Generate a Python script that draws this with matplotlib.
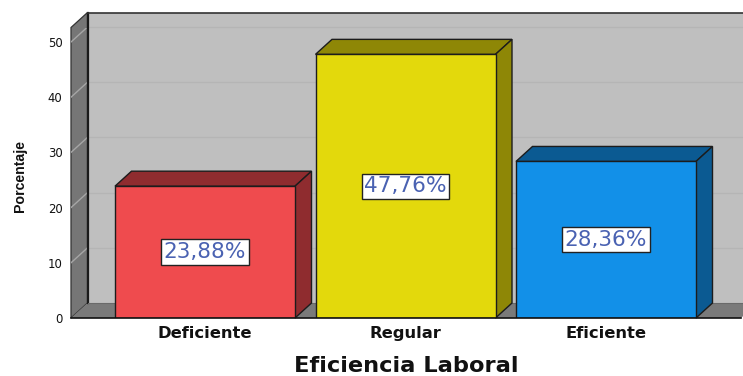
import matplotlib
matplotlib.use("Agg")
import matplotlib.pyplot as plt
from matplotlib.patches import Polygon

categories = ["Deficiente", "Regular", "Eficiente"]
values = [23.88, 47.76, 28.36]
labels = ["23,88%", "47,76%", "28,36%"]
y_ticks = [0, 10, 20, 30, 40, 50]
front_colors = ["#EF4B4E", "#E3D90C", "#1290E8"]
side_colors = ["#8F2C2F", "#8E8706", "#0B5A92"]

W, H = 743, 376
fig = plt.figure(figsize=(W / 100, H / 100), dpi=100)
L, R, B, T = 71, 741, 318, 27.5
ax = fig.add_axes([L / W, 1 - B / H, (R - L) / W, (B - T) / H])
xmin, xmax = (L - 205) / 200.5, (R - 205) / 200.5
ymin, ymax = 0, (B - T) / 5.52
ax.set_xlim(xmin, xmax)
ax.set_ylim(ymin, ymax)
ddx, ddy = 16.5 / 200.5, 15 / 5.52
bar_w = 180 / 200.5
ink = "#1c1c1c"

def poly(pts, fc, ec=ink, lw=1.0, z=1):
    ax.add_patch(Polygon(pts, closed=True, fc=fc, ec=ec, lw=lw, zorder=z,
                         clip_on=False, joinstyle="miter"))

# walls and floor
poly([(xmin + ddx, ddy), (xmax + ddx, ddy), (xmax + ddx, ymax + ddy), (xmin + ddx, ymax + ddy)],
     "#BFBFBF", ec="none", z=1)
poly([(xmin, 0), (xmin + ddx, ddy), (xmin + ddx, ymax + ddy), (xmin, ymax)],
     "#767676", ec="#333333", lw=0.9, z=2)
poly([(xmin, 0), (xmax, 0), (xmax + ddx, ddy), (xmin + ddx, ddy)],
     "#7A7A7A", ec="none", z=2)
for t in y_ticks[1:]:
    ax.plot([xmin + ddx, xmax + ddx], [t + ddy, t + ddy], color="#B5B5B5", lw=1.0, zorder=1.5, clip_on=False)
    ax.plot([xmin, xmin + ddx], [t, t + ddy], color="#A6A6A6", lw=1.0, zorder=3)
ax.plot([xmin + ddx, xmin + ddx], [ddy, ymax + ddy], color="#1a1a1a", lw=1.6, zorder=3, clip_on=False)
ax.plot([xmin + ddx, xmax + ddx], [ymax + ddy, ymax + ddy], color="#333333", lw=1.2, zorder=3, clip_on=False)
ax.plot([xmin + ddx, xmax + ddx], [ddy, ddy], color="#6a6a6a", lw=0.8, zorder=3, clip_on=False)

# bars
for i, v in enumerate(values):
    x0, x1 = i - bar_w / 2, i + bar_w / 2
    poly([(x0, v), (x1, v), (x1 + ddx, v + ddy), (x0 + ddx, v + ddy)], side_colors[i], z=4)
    poly([(x1, 0), (x1 + ddx, ddy), (x1 + ddx, v + ddy), (x1, v)], side_colors[i], z=4)
    ax.bar(i, v, width=bar_w, color=front_colors[i], edgecolor=ink, linewidth=1.0, zorder=5)
    ax.text(i, v / 2, labels[i], ha="center", va="center", fontsize=15.6, color="#4A62B2",
            family="DejaVu Sans", zorder=6,
            bbox=dict(boxstyle="square,pad=0.12", fc="white", ec="#222222", lw=1.0))

ax.plot([xmin, xmax], [0, 0], color="#111111", lw=1.2, zorder=7, clip_on=False)

for s in ax.spines.values():
    s.set_visible(False)
ax.patch.set_visible(False)
ax.set_yticks(y_ticks)
ax.set_yticklabels([str(t) for t in y_ticks], fontsize=8.4, color="#111111", family="DejaVu Sans")
ax.set_xticks(range(len(categories)))
ax.set_xticklabels(categories, fontsize=11.8, fontweight="bold", color="#111111", family="DejaVu Sans")
ax.tick_params(axis="y", length=0, pad=6)
ax.tick_params(axis="x", length=0, pad=5.7)

fig.text(406 / W, 1 - 365.5 / H, "Eficiencia Laboral", ha="center", va="center",
         fontsize=16.2, fontweight="bold", color="#111111", family="DejaVu Sans")
fig.text(19.5 / W, 1 - 176 / H, "Porcentaje", rotation=90, ha="center", va="center",
         fontsize=10.2, fontweight="bold", color="#111111", family="Liberation Sans")

fig.savefig("out.png", dpi=100, facecolor="white")
